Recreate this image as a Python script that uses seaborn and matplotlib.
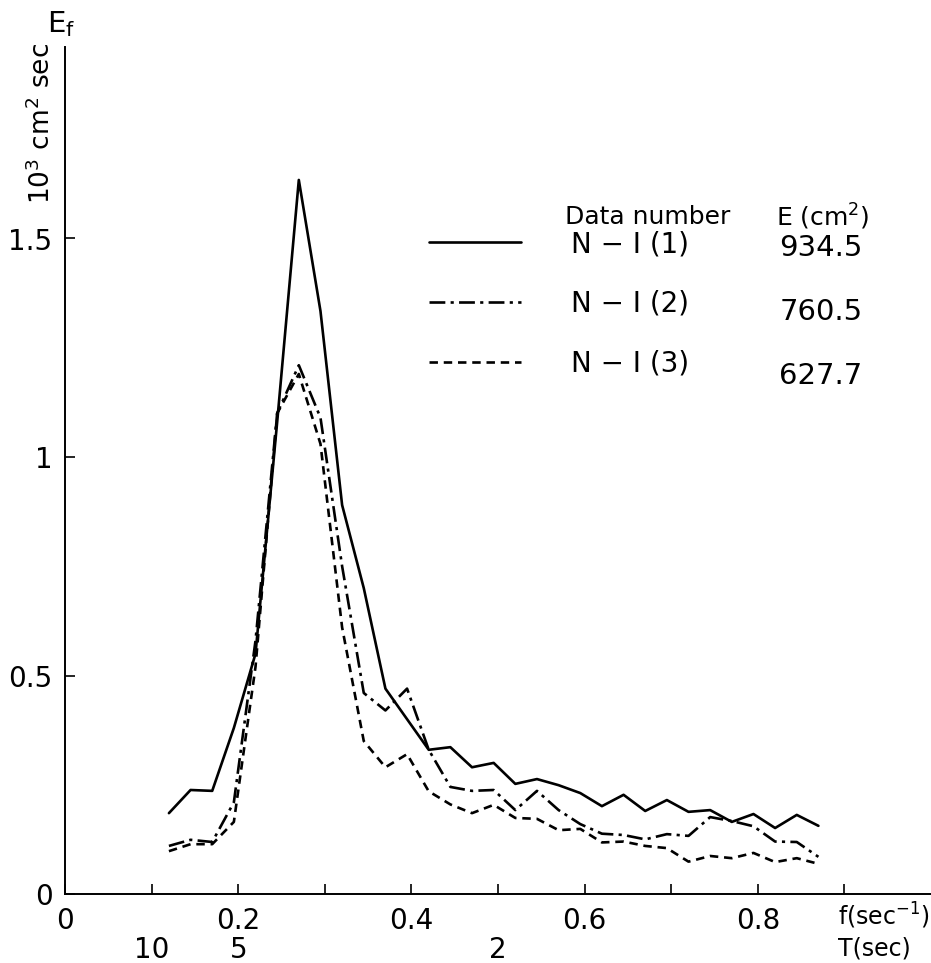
import numpy as np
import pandas as pd
import matplotlib
matplotlib.use("Agg")
import matplotlib.pyplot as plt
import seaborn as sns

# frequency grid (sec^-1)
freq = [0.120, 0.145, 0.170, 0.195, 0.220, 0.245, 0.270, 0.295, 0.320, 0.345,
        0.370, 0.395, 0.420, 0.445, 0.470, 0.495, 0.520, 0.545, 0.570, 0.595,
        0.620, 0.645, 0.670, 0.695, 0.720, 0.745, 0.770, 0.795, 0.820, 0.845, 0.870]

# spectral density, 10^3 cm^2 sec
n1_1 = [0.185, 0.238, 0.236, 0.38, 0.55, 1.08, 1.634, 1.334, 0.89, 0.70,
        0.47, 0.40, 0.33, 0.336, 0.29, 0.30, 0.252, 0.263, 0.249, 0.231,
        0.201, 0.227, 0.19, 0.215, 0.188, 0.192, 0.165, 0.183, 0.151, 0.181, 0.156]
n1_2 = [0.11, 0.124, 0.119, 0.21, 0.58, 1.10, 1.21, 1.09, 0.75, 0.46,
        0.42, 0.47, 0.33, 0.245, 0.236, 0.238, 0.192, 0.236, 0.192, 0.16,
        0.138, 0.135, 0.125, 0.137, 0.133, 0.176, 0.167, 0.155, 0.12, 0.119, 0.085]
n1_3 = [0.098, 0.114, 0.114, 0.165, 0.52, 1.10, 1.19, 1.03, 0.61, 0.35,
        0.29, 0.32, 0.235, 0.205, 0.185, 0.204, 0.174, 0.172, 0.146, 0.149,
        0.118, 0.12, 0.11, 0.105, 0.074, 0.087, 0.082, 0.094, 0.073, 0.082, 0.069]

names = ["N \u2212 I (1)", "N \u2212 I (2)", "N \u2212 I (3)"]
energy = ["934.5", "760.5", "627.7"]

f_ticks = np.arange(0, 1.0, 0.1)
f_ticklabels = ["0", "", "0.2", "", "0.4", "", "0.6", "", "0.8", ""]
y_ticks = [0, 0.5, 1, 1.5]
y_ticklabels = ["0", "0.5", "1", "1.5"]
T_ticks = [10, 5, 2]

sns.set_style("ticks")
plt.rcParams["font.family"] = ["DejaVu Sans"]
for k in ["text.color", "axes.labelcolor", "xtick.color", "ytick.color", "axes.edgecolor"]:
    plt.rcParams[k] = "black"

fig = plt.figure(figsize=(9.31, 9.63), dpi=100)
ax = fig.add_axes([65 / 931, 69 / 963, 866 / 931, 847 / 963])

dashes = [None, (6, 2, 1.2, 2), (3.2, 2.2)]
series = [n1_1, n1_2, n1_3]
for name, vals, dash in zip(names, series, dashes):
    df = pd.DataFrame({"f": freq, "E": vals})
    sns.lineplot(data=df, x="f", y="E", ax=ax, color="black", lw=1.9, label=name)
    if dash is not None:
        ax.lines[-1].set_dashes(dash)

ax.set_xlim(0, 1.0)
ax.set_ylim(0, 847 / 437)
sns.despine(ax=ax)
for s in ["left", "bottom"]:
    ax.spines[s].set_linewidth(1.4)

ax.set_xticks(f_ticks)
ax.set_xticklabels(f_ticklabels)
ax.set_yticks(y_ticks)
ax.set_yticklabels(y_ticklabels)
ax.tick_params(axis="x", direction="in", length=7, width=1.2, pad=9, labelsize=20)
ax.tick_params(axis="y", direction="in", length=7, width=1.2, pad=9, labelsize=20)
ax.set_xlabel("")
ax.set_ylabel("10$^3$ cm$^2$ sec", fontsize=19, labelpad=0)
ax.yaxis.set_label_coords(-0.01, 0.91)

# period labels under the frequency axis
for T in T_ticks:
    ax.text(1.0 / T, -0.066, str(T), transform=ax.get_xaxis_transform(),
            ha="center", va="center", fontsize=20)

fig.text(838 / 931, 1 - 916 / 963, "f(sec$^{-1}$)", ha="left", va="center", fontsize=17)
fig.text(838 / 931, 1 - 948 / 963, "T(sec)", ha="left", va="center", fontsize=17)
fig.text(47 / 931, 1 - 24 / 963, "E$_\\mathregular{f}$", ha="left", va="center", fontsize=21)

# legend block
leg = ax.legend(loc="upper left", bbox_to_anchor=((429 - 65) / 866, (894 - 230) / 847),
                frameon=False, fontsize=20, handlelength=3.3, handletextpad=1.8,
                labelspacing=1.15, borderpad=0, borderaxespad=0)
ax.text((648 - 65) / 866, (894 - 217) / 847, "Data number", transform=ax.transAxes,
        ha="center", va="center", fontsize=18)
ax.text((823 - 65) / 866, (894 - 217) / 847, "E (cm$^2$)", transform=ax.transAxes,
        ha="center", va="center", fontsize=18)
for i, e in enumerate(energy):
    ax.text((821 - 65) / 866, (894 - (248 + 64 * i)) / 847, e, transform=ax.transAxes,
            ha="center", va="center", fontsize=21)

fig.savefig("out.png", dpi=100)
